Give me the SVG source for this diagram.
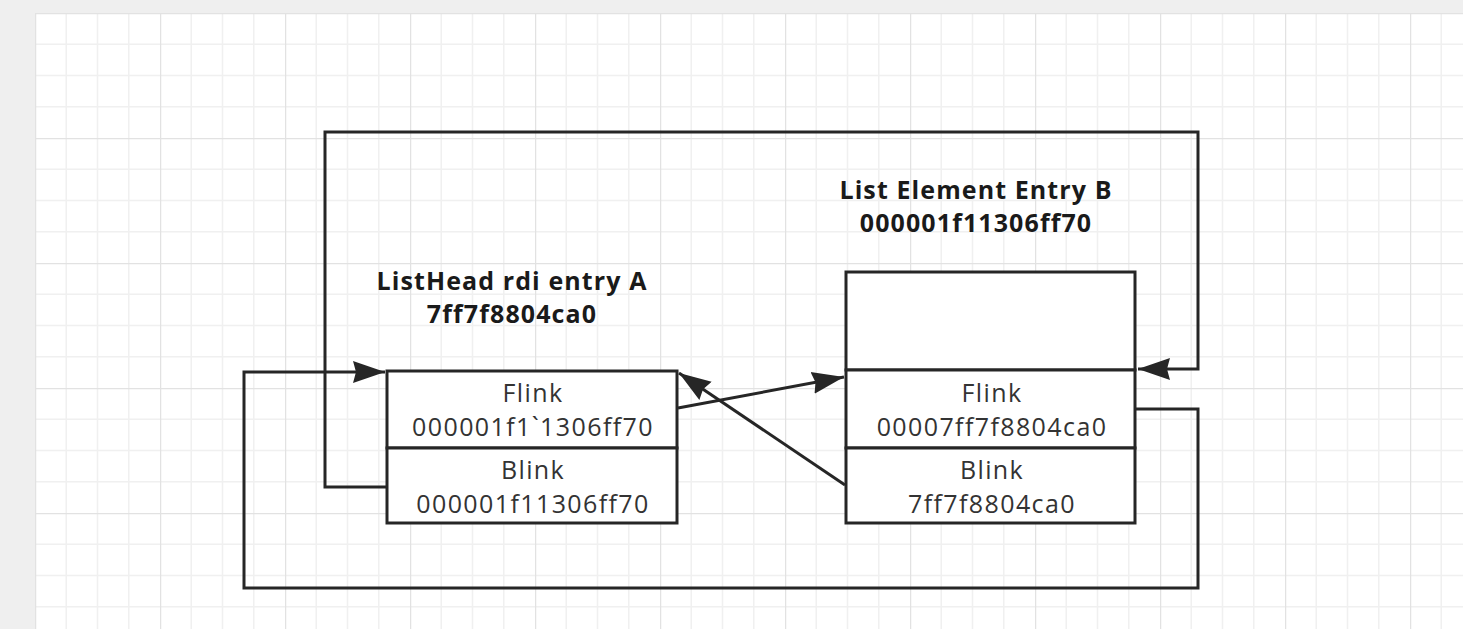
<svg xmlns="http://www.w3.org/2000/svg" width="1463" height="629" viewBox="0 0 1463 629">
<style>
.box{fill:#fff;stroke:#262626;stroke-width:3}
.ln{fill:none;stroke:#262626;stroke-width:3}
.t{font-family:"Open Sans","Noto Sans",sans-serif;font-size:25px;letter-spacing:1.4px;fill:#333;text-anchor:middle}
.h{font-family:"Open Sans","Noto Sans",sans-serif;font-size:25px;letter-spacing:1.1px;font-weight:bold;fill:#1a1a1a;text-anchor:middle}
</style>
<defs>
<pattern id="grid" x="35" y="13" width="125" height="125" patternUnits="userSpaceOnUse">
<path d="M31.25,0V125M62.5,0V125M93.75,0V125M0,31.25H125M0,62.5H125M0,93.75H125" fill="none" stroke="#f0f0f0" stroke-width="1.5"/>
<path d="M0.5,0V125M0,0.5H125" fill="none" stroke="#e2e2e2" stroke-width="1.5"/>
</pattern>
<marker id="arr" markerUnits="userSpaceOnUse" markerWidth="34" markerHeight="26" refX="32" refY="12" orient="auto">
<path d="M0,1 L32,12 L0,23 L3,12 Z" fill="#262626"/>
</marker>
</defs>
<rect width="1463" height="629" fill="#efefef"/>
<rect x="35" y="13" width="1428" height="616" fill="#fff"/>
<rect x="35" y="13" width="1428" height="616" fill="url(#grid)"/>
<g id="connectors">
<path class="ln" d="M387,487 H325 V132 H1198 V369 H1138" marker-end="url(#arr)"/>
<path class="ln" d="M1135,409 H1198 V588 H244 V372 H385" marker-end="url(#arr)"/>
<path class="ln" d="M678,408 L844,377" marker-end="url(#arr)"/>
<path class="ln" d="M845,485 L679,373" marker-end="url(#arr)"/>
</g>
<g id="nodeA">
<rect class="box" x="387" y="371" width="290" height="77"/>
<rect class="box" x="387" y="448" width="290" height="75"/>
<text class="t" x="533" y="402">Flink</text>
<text class="t" x="533" y="436">000001f1`1306ff70</text>
<text class="t" x="533" y="479">Blink</text>
<text class="t" x="533" y="513">000001f11306ff70</text>
</g>
<g id="nodeB">
<rect class="box" x="846" y="272" width="289" height="98"/>
<rect class="box" x="846" y="370" width="289" height="78"/>
<rect class="box" x="846" y="448" width="289" height="75"/>
<text class="t" x="992" y="402">Flink</text>
<text class="t" x="992" y="436">00007ff7f8804ca0</text>
<text class="t" x="992" y="479">Blink</text>
<text class="t" x="992" y="513">7ff7f8804ca0</text>
</g>
<g id="labelA">
<text class="h" x="512" y="290">ListHead rdi entry A</text>
<text class="h" x="512" y="323">7ff7f8804ca0</text>
</g>
<g id="labelB">
<text class="h" x="976" y="199">List Element Entry B</text>
<text class="h" x="976" y="232">000001f11306ff70</text>
</g>
</svg>
